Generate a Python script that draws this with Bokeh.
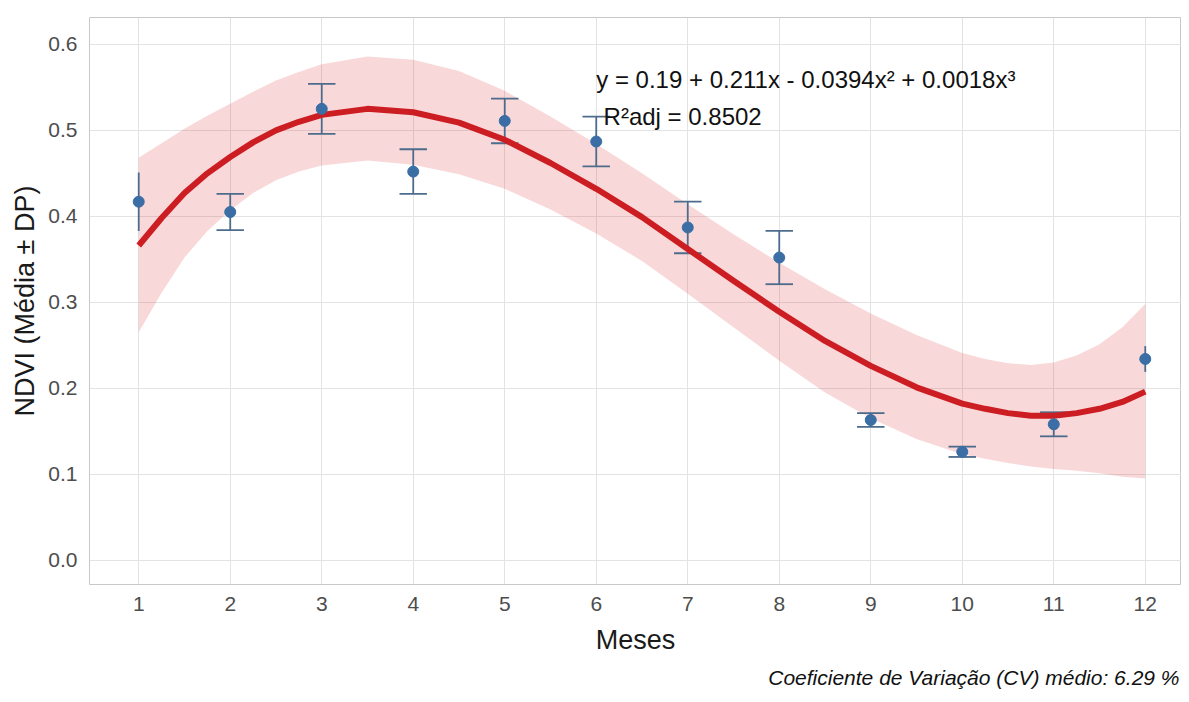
from bokeh.plotting import figure
from bokeh.models import FixedTicker, Title
from bokeh.core.properties import value
from bokeh.embed import file_html
from bokeh.resources import INLINE

# ---------------- data ----------------
months = [1, 2, 3, 4, 5, 6, 7, 8, 9, 10, 11, 12]
ndvi_mean = [0.417, 0.405, 0.525, 0.452, 0.511, 0.487, 0.387, 0.352, 0.163, 0.126, 0.158, 0.234]
ndvi_sd = [0.034, 0.021, 0.029, 0.026, 0.026, 0.029, 0.030, 0.031, 0.008, 0.006, 0.014, 0.015]
cap_months = [2, 3, 4, 5, 6, 7, 8, 9, 10, 11]   # error bars drawn with caps

fit_x = [1, 1.25, 1.5, 1.75, 2, 2.25, 2.5, 2.75, 3, 3.5, 4, 4.5, 5, 5.5, 6, 6.5,
         7, 7.5, 8, 8.5, 9, 9.5, 10, 10.25, 10.5, 10.75, 11, 11.25, 11.5, 11.75, 12]
fit_y = [0.366, 0.398, 0.427, 0.450, 0.469, 0.486, 0.500, 0.510, 0.518, 0.525, 0.521, 0.509,
         0.489, 0.462, 0.432, 0.399, 0.362, 0.325, 0.289, 0.255, 0.226, 0.201, 0.182,
         0.176, 0.171, 0.168, 0.168, 0.171, 0.176, 0.184, 0.196]
ci_lower = [0.265, 0.311, 0.352, 0.383, 0.407, 0.427, 0.442, 0.452, 0.459, 0.465, 0.460, 0.449,
            0.432, 0.408, 0.380, 0.348, 0.310, 0.271, 0.232, 0.195, 0.165, 0.141, 0.123,
            0.118, 0.113, 0.109, 0.106, 0.104, 0.101, 0.097, 0.095]
ci_upper = [0.468, 0.485, 0.502, 0.517, 0.531, 0.545, 0.558, 0.568, 0.577, 0.586, 0.582, 0.569,
            0.546, 0.516, 0.484, 0.450, 0.414, 0.379, 0.346, 0.315, 0.287, 0.262, 0.241,
            0.234, 0.229, 0.227, 0.230, 0.238, 0.251, 0.271, 0.298]

x_tick_labels = ["1", "2", "3", "4", "5", "6", "7", "8", "9", "10", "11", "12"]
y_ticks = [0.0, 0.1, 0.2, 0.3, 0.4, 0.5, 0.6]
y_tick_labels = ["0.0", "0.1", "0.2", "0.3", "0.4", "0.5", "0.6"]

x_title = "Meses"
y_title = "NDVI (Média ± DP)"
equation_text = "y = 0.19 + 0.211x - 0.0394x² + 0.0018x³"
r2_text = "R²adj = 0.8502"
caption_text = "Coeficiente de Variação (CV) médio: 6.29 %"

# ---------------- styles ----------------
FONT = "Liberation Sans"
CAP_HALF = 0.15
POINT_COLOR = "#3a6ea5"
BAR_COLOR = "#4d6c8c"
LINE_COLOR = "#cc1d22"

p = figure(width=1181, height=694,
           x_range=(0.462, 12.396), y_range=(-0.0284, 0.6313),
           output_backend="svg", toolbar_location=None,
           min_border_left=89, min_border_right=0, min_border_top=17, min_border_bottom=108,
           background_fill_color="white", border_fill_color="white",
           outline_line_color="#c8c8c8", outline_line_width=1)

# axes
p.xaxis.ticker = FixedTicker(ticks=months)
p.xaxis.major_label_overrides = {m: lbl for m, lbl in zip(months, x_tick_labels)}
p.yaxis.ticker = FixedTicker(ticks=y_ticks)
p.yaxis.major_label_overrides = {t: lbl for t, lbl in zip(y_ticks, y_tick_labels)}
for ax in (p.xaxis[0], p.yaxis[0]):
    ax.axis_line_color = None
    ax.major_tick_line_color = None
    ax.minor_tick_line_color = None
    ax.major_tick_out = 0
    ax.major_tick_in = 0
    ax.minor_tick_out = 0
    ax.minor_tick_in = 0
    ax.major_label_text_font = FONT
    ax.major_label_text_font_size = "21px"
    ax.major_label_text_color = "#4d4d4d"
    ax.major_label_standoff = 12
    ax.axis_label_text_font = FONT
    ax.axis_label_text_font_size = "27px"
    ax.axis_label_text_font_style = "normal"
    ax.axis_label_text_color = "#1a1a1a"
p.xaxis.axis_label = x_title
p.yaxis.axis_label = y_title
p.xaxis.axis_label_standoff = 11
p.yaxis.axis_label_standoff = 5

# grid
p.xgrid.ticker = FixedTicker(ticks=months)
p.ygrid.ticker = FixedTicker(ticks=y_ticks)
for g in (p.xgrid[0], p.ygrid[0]):
    g.grid_line_color = "#e3e3e3"
    g.grid_line_width = 1
    g.minor_grid_line_color = None

# confidence band of the cubic fit
p.varea(x=fit_x, y1=ci_lower, y2=ci_upper, fill_color="#e0282d", fill_alpha=0.18)

# error bars (mean ± sd)
bar_low = [m - s for m, s in zip(ndvi_mean, ndvi_sd)]
bar_high = [m + s for m, s in zip(ndvi_mean, ndvi_sd)]
p.segment(x0=months, y0=bar_low, x1=months, y1=bar_high, line_color=BAR_COLOR, line_width=1.8)
cap_idx = [months.index(m) for m in cap_months]
cx0 = [months[i] - CAP_HALF for i in cap_idx]
cx1 = [months[i] + CAP_HALF for i in cap_idx]
p.segment(x0=cx0, y0=[bar_high[i] for i in cap_idx], x1=cx1, y1=[bar_high[i] for i in cap_idx],
          line_color=BAR_COLOR, line_width=1.8)
p.segment(x0=cx0, y0=[bar_low[i] for i in cap_idx], x1=cx1, y1=[bar_low[i] for i in cap_idx],
          line_color=BAR_COLOR, line_width=1.8)

# fitted cubic curve
p.line(fit_x, fit_y, line_color=LINE_COLOR, line_width=6, line_join="round")

# monthly means
p.scatter(months, ndvi_mean, size=11, fill_color=POINT_COLOR, line_color=POINT_COLOR)

# equation annotation
p.text(x=[6.0], y=[0.559], text=[equation_text], text_font=value(FONT),
       text_font_size=value("24px"), text_baseline="alphabetic", text_align="left",
       text_color="#111111")
p.text(x=[6.08], y=[0.5165], text=[r2_text], text_font=value(FONT),
       text_font_size=value("24px"), text_baseline="alphabetic", text_align="left",
       text_color="#111111")

# caption
cap = Title(text=caption_text, align="right", text_font=FONT, text_font_size="21px",
            text_font_style="italic", text_color="#111111", standoff=12, offset=2)
p.add_layout(cap, "below")

open("out.html", "w").write(file_html(p, INLINE))
